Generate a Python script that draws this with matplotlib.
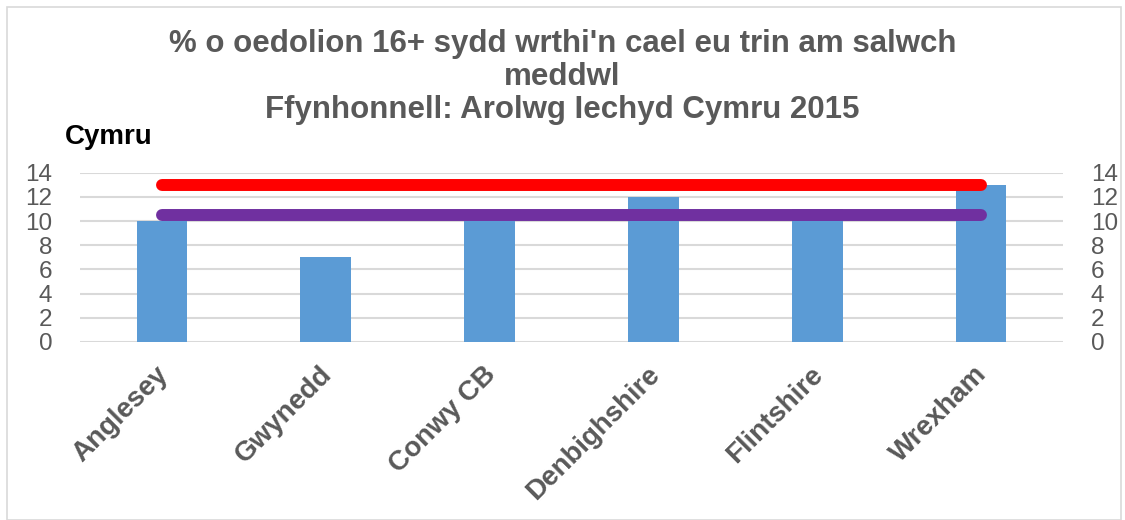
import matplotlib.pyplot as plt
from matplotlib.patches import Rectangle
from matplotlib.transforms import ScaledTranslation

# Data
areas = ["Anglesey", "Gwynedd", "Conwy CB", "Denbighshire", "Flintshire", "Wrexham"]
values = [10, 7, 10, 12, 11, 13]
line_red = [13, 13, 13, 13, 13, 13]
line_purple = [10.5, 10.5, 10.5, 10.5, 10.5, 10.5]
yticks = [0, 2, 4, 6, 8, 10, 12, 14]

title = "% o oedolion 16+ sydd wrthi'n cael eu trin am salwch\nmeddwl\nFfynhonnell: Arolwg Iechyd Cymru 2015"

plt.rcParams['font.family'] = ['Liberation Sans', 'DejaVu Sans']
grey = '#595959'

fig = plt.figure(figsize=(11.25, 5.2), dpi=100)
ax = fig.add_axes([80 / 1125, 1 - 342 / 520, (1063 - 80) / 1125, (342 - 172.7) / 520])

x = range(len(areas))
ax.bar(x, values, width=0.31, color='#5B9BD5', zorder=2)
ax.plot(x, line_red, color='#FF0000', lw=8.6, solid_capstyle='round', zorder=3)
ax.plot(x, line_purple, color='#7030A0', lw=8.6, solid_capstyle='round', zorder=3)

ax.set_xlim(-0.5, len(areas) - 0.5)
ax.set_ylim(0, 14)
ax.set_yticks(yticks)
ax.yaxis.grid(True, color='#d9d9d9', lw=1.5, zorder=0)
ax.set_axisbelow(True)
for s in ax.spines.values():
    s.set_visible(False)
ax.tick_params(axis='y', length=0, labelsize=17.5, labelcolor=grey, pad=20)
ax.tick_params(axis='x', length=0, pad=14)
ax.set_xticks(list(x))
ax.set_xticklabels(areas, rotation=45, ha='right', rotation_mode='anchor',
                   fontsize=20, fontweight='bold', color=grey)
shift = ScaledTranslation(-7 / 100, 0, fig.dpi_scale_trans)
for lab in ax.get_xticklabels():
    lab.set_transform(lab.get_transform() + shift)

ax2 = ax.twinx()
ax2.set_ylim(0, 14)
ax2.set_yticks(yticks)
for s in ax2.spines.values():
    s.set_visible(False)
ax2.tick_params(axis='y', length=0, labelsize=17.5, labelcolor=grey, pad=20)

fig.text(0.5, 1 - 77 / 520, title, ha='center', va='center', fontsize=22.5,
         fontweight='bold', color=grey, linespacing=1.13)
fig.text(65 / 1125, 1 - 137 / 520, "Cymru", ha='left', va='center', fontsize=20,
         fontweight='bold', color='black')

fig.patches.append(Rectangle((7 / 1125, 0.0), 1114 / 1125, 1 - 7 / 520,
                             transform=fig.transFigure, fill=False,
                             edgecolor='#d9d9d9', lw=1.2))

fig.savefig('out.png', dpi=100)
